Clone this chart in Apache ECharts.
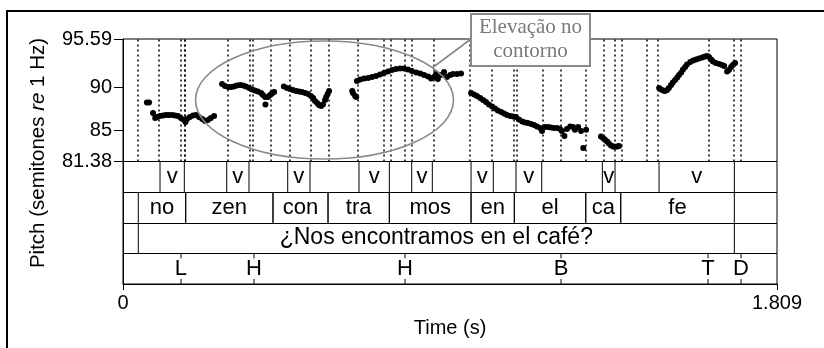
<!DOCTYPE html>
<html>
<head>
<meta charset="utf-8">
<script src="https://cdn.jsdelivr.net/npm/echarts@6/dist/echarts.min.js"></script>
<style>
  html, body { margin: 0; padding: 0; background: #fff; }
  #chart { width: 824px; height: 348px; }
</style>
</head>
<body>
<div id="chart"></div>
<script>
// pitch track, [time (s), semitones re 1 Hz], one array per stretch of voicing
var pitchNo = [[0.066,88.23],[0.072,88.23],[0.083,87.02],[0.089,86.44],[0.094,86.55],[0.102,86.67],[0.111,86.73],[0.119,86.78],[0.127,86.78],[0.136,86.78],[0.144,86.73],[0.152,86.67],[0.160,86.44],[0.169,86.20],[0.173,85.97],[0.177,86.32],[0.185,86.55],[0.194,86.73],[0.202,86.78],[0.210,86.55],[0.219,86.32],[0.227,86.09],[0.235,86.20],[0.243,86.44],[0.252,86.67]];
var pitchZen = [[0.274,90.38],[0.282,90.14],[0.291,90.03],[0.299,90.03],[0.307,90.09],[0.315,90.20],[0.324,90.26],[0.332,90.20],[0.340,90.09],[0.349,89.91],[0.357,89.74],[0.365,89.62],[0.373,89.51],[0.382,89.33],[0.387,89.10],[0.393,88.87],[0.394,88.00],[0.401,88.87],[0.407,89.10],[0.412,89.27],[0.418,89.45]];
var pitchCon = [[0.445,90.09],[0.454,89.91],[0.462,89.80],[0.470,89.68],[0.479,89.56],[0.487,89.51],[0.495,89.45],[0.504,89.33],[0.512,89.22],[0.520,88.99],[0.526,88.75],[0.531,88.41],[0.537,88.17],[0.542,87.94],[0.548,87.83],[0.553,88.00],[0.559,88.52],[0.562,88.87],[0.566,89.22],[0.570,89.56]];
var pitchTraMos = [[0.634,89.56],[0.636,89.33],[0.642,88.99],[0.645,88.87],[0.647,90.72],[0.656,90.90],[0.667,91.01],[0.678,91.07],[0.689,91.19],[0.700,91.30],[0.711,91.48],[0.722,91.65],[0.733,91.82],[0.744,92.00],[0.755,92.11],[0.766,92.17],[0.777,92.17],[0.788,92.06],[0.799,91.88],[0.811,91.71],[0.822,91.59],[0.833,91.42],[0.844,91.24],[0.852,91.01],[0.860,91.19],[0.866,91.53],[0.871,90.95],[0.880,91.42],[0.888,91.77],[0.896,91.19],[0.905,91.42],[0.913,91.53],[0.924,91.53],[0.935,91.59]];
var pitchEnEl = [[0.963,89.33],[0.971,89.16],[0.979,88.99],[0.988,88.75],[0.996,88.52],[1.004,88.29],[1.012,88.00],[1.021,87.77],[1.029,87.54],[1.037,87.31],[1.046,87.13],[1.054,86.96],[1.062,86.78],[1.071,86.67],[1.079,86.61],[1.087,86.55],[1.095,86.26],[1.104,86.03],[1.112,85.91],[1.120,85.86],[1.129,85.74],[1.137,85.62],[1.145,85.45],[1.154,85.28],[1.159,84.93],[1.167,85.39],[1.176,85.39],[1.184,85.33],[1.192,85.28],[1.201,85.28],[1.209,85.16],[1.214,84.93],[1.221,84.35],[1.228,85.16],[1.237,85.45],[1.245,85.39],[1.250,85.05],[1.259,85.39],[1.267,84.93],[1.273,82.96],[1.281,85.05]];
var pitchCa = [[1.322,84.29],[1.328,84.12],[1.333,83.89],[1.339,83.71],[1.344,83.48],[1.350,83.25],[1.356,83.13],[1.361,83.08],[1.367,83.13],[1.372,83.19]];
var pitchFe = [[1.483,89.91],[1.488,89.74],[1.494,89.62],[1.499,89.56],[1.505,89.68],[1.510,89.91],[1.516,90.26],[1.521,90.55],[1.527,90.84],[1.533,91.13],[1.538,91.42],[1.544,91.71],[1.549,92.06],[1.555,92.35],[1.560,92.64],[1.569,92.92],[1.577,93.10],[1.585,93.21],[1.593,93.33],[1.602,93.45],[1.610,93.56],[1.616,93.62],[1.621,93.50],[1.627,93.21],[1.632,92.98],[1.640,92.81],[1.649,92.69],[1.657,92.58],[1.663,92.46],[1.671,91.82],[1.676,92.00],[1.682,92.35],[1.687,92.58],[1.693,92.81]];

// TextGrid tiers, [start, end, label]
var vowelTier = [[0.1024,0.1696,'v'],[0.2869,0.3485,'v'],[0.4556,0.5173,'v'],[0.6528,0.7367,'v'],[0.7986,0.8556,'v'],[0.9627,1.0243,'v'],[1.0871,1.1582,'v'],[1.3259,1.3610,'v'],[1.4827,1.6910,'v']];
var syllableTier = [[0.0423,0.1734,'no'],[0.1734,0.4149,'zen'],[0.4149,0.5671,'con'],[0.5671,0.7367,'tra'],[0.7367,0.9627,'mos'],[0.9627,1.0824,'en'],[1.0824,1.2800,'el'],[1.2800,1.3768,'ca'],[1.3768,1.6910,'fe']];
var sentenceTier = [[0.0423,1.6910,'¿Nos encontramos en el café?']];
// point tier, [time, label]
var toneTier = [[0.1604,'L'],[0.3624,'H'],[0.7801,'H'],[1.2116,'B'],[1.6183,'T'],[1.7095,'D']];
var extraMarks = [0.7156, 1.4467];

var timeMax = 1.809;
var pitchMin = 81.38, pitchMax = 95.59;
var pitchTicks = [81.38, 85, 90, 95.59];
var timeTicks = [0, 1.809];

var FONT = '"Liberation Sans", Arial, sans-serif';

var pitch = [].concat(pitchNo, pitchZen, pitchCon, pitchTraMos, pitchEnEl, pitchCa, pitchFe);

var lineData = [], textData = [], textLabels = [], textSizes = [], tickData = [], dotted = [];
function addMark(t) { if (dotted.indexOf(t) < 0) dotted.push(t); }
[[vowelTier, 3, 22], [syllableTier, 2, 22], [sentenceTier, 1, 23]].forEach(function (tr) {
  tr[0].forEach(function (iv) {
    lineData.push([iv[0], tr[1]], [iv[1], tr[1]]);
    addMark(iv[0]); addMark(iv[1]);
    textData.push([(iv[0] + iv[1]) / 2, tr[1] + 0.5]);
    textLabels.push(iv[2]);
    textSizes.push(tr[2]);
  });
});
toneTier.forEach(function (p) {
  tickData.push([p[0], 0]);
  addMark(p[0]);
  textData.push([p[0], 0.5]);
  textLabels.push(p[1]);
  textSizes.push(22);
});
extraMarks.forEach(addMark);

var chart = echarts.init(document.getElementById('chart'));
chart.setOption({
  animation: false,
  grid: [
    { left: 123, top: 39, width: 654, height: 122.5, show: true, borderColor: '#000', borderWidth: 1 },
    { left: 123, top: 161.5, width: 654, height: 122.5, show: true, borderColor: '#000', borderWidth: 1 }
  ],
  xAxis: [
    { gridIndex: 0, type: 'value', min: 0, max: timeMax, show: false },
    {
      gridIndex: 1, type: 'value', min: 0, max: timeMax,
      axisLine: { show: true, lineStyle: { color: '#000', width: 1 } },
      axisTick: { show: true, customValues: timeTicks, length: 6, lineStyle: { color: '#000' } },
      axisLabel: { customValues: timeTicks, color: '#000', fontSize: 20, fontFamily: FONT, margin: 9 },
      splitLine: { show: false },
      name: 'Time (s)', nameLocation: 'middle', nameGap: 34,
      nameTextStyle: { color: '#000', fontSize: 20, fontFamily: FONT }
    }
  ],
  yAxis: [
    {
      gridIndex: 0, type: 'value', min: pitchMin, max: pitchMax,
      axisLine: { show: true, lineStyle: { color: '#000', width: 1 } },
      axisTick: { show: true, customValues: pitchTicks, length: 9, lineStyle: { color: '#000' } },
      axisLabel: { customValues: pitchTicks, color: '#000', fontSize: 20, fontFamily: FONT, margin: 11 },
      splitLine: { show: false }
    },
    {
      gridIndex: 1, type: 'value', min: 0, max: 4, interval: 1,
      axisLine: { show: true, lineStyle: { color: '#000' } },
      axisTick: { show: false }, axisLabel: { show: false },
      splitLine: { show: true, lineStyle: { color: '#000', width: 1 } }
    }
  ],
  graphic: [
    { type: 'rect', z: 100, shape: { x: 7, y: 11, width: 830, height: 350 }, style: { fill: 'none', stroke: '#000', lineWidth: 2 } },
    { type: 'text', z: 100, x: 38, y: 153, rotation: Math.PI / 2,
      style: {
        text: '{a|Pitch (semitones }{b|re}{a| 1 Hz)}',
        align: 'center', verticalAlign: 'middle',
        rich: {
          a: { fontSize: 20.5, fontFamily: FONT, fill: '#000', color: '#000' },
          b: { fontSize: 20.5, fontFamily: FONT, fontStyle: 'italic', fill: '#000', color: '#000' }
        }
      }
    },
    { type: 'ellipse', z: 100, shape: { cx: 324.5, cy: 100, rx: 129, ry: 59 }, style: { fill: 'none', stroke: '#8a8a8a', lineWidth: 1.6 } },
    { type: 'line', z: 100, shape: { x1: 471, y1: 39, x2: 432, y2: 68 }, style: { stroke: '#8a8a8a', lineWidth: 1.6 } },
    { type: 'rect', z: 101, shape: { x: 471, y: 14, width: 119, height: 52 }, style: { fill: '#fff', stroke: '#8a8a8a', lineWidth: 2 } },
    { type: 'text', z: 102, x: 530.5, y: 39,
      style: {
        text: 'Elevação no\ncontorno', align: 'center', verticalAlign: 'middle',
        font: '21px "Liberation Serif", "Times New Roman", serif', lineHeight: 24, fill: '#7a7a7a'
      }
    }
  ],
  series: [
    {
      type: 'line', xAxisIndex: 0, yAxisIndex: 0, data: [], silent: true,
      markLine: {
        symbol: ['none', 'none'], silent: true, animation: false,
        label: { show: false },
        lineStyle: { color: '#000', width: 1.5, type: [2, 3], opacity: 1 },
        data: dotted.map(function (t) { return { xAxis: t }; })
      }
    },
    {
      type: 'scatter', xAxisIndex: 0, yAxisIndex: 0, data: pitch,
      symbol: 'circle', symbolSize: 6, itemStyle: { color: '#000', opacity: 1 }, z: 5
    },
    {
      type: 'custom', xAxisIndex: 1, yAxisIndex: 1, data: lineData,
      renderItem: function (params, api) {
        var a = api.coord([api.value(0), api.value(1)]);
        var b = api.coord([api.value(0), api.value(1) + 1]);
        return { type: 'line', shape: { x1: a[0], y1: a[1], x2: b[0], y2: b[1] }, style: { stroke: '#000', lineWidth: 1 } };
      }
    },
    {
      type: 'custom', xAxisIndex: 1, yAxisIndex: 1, data: tickData,
      renderItem: function (params, api) {
        var a = api.coord([api.value(0), 0]);
        var b = api.coord([api.value(0), 1]);
        return {
          type: 'group',
          children: [
            { type: 'line', shape: { x1: a[0], y1: a[1], x2: a[0], y2: a[1] - 5 }, style: { stroke: '#000', lineWidth: 1 } },
            { type: 'line', shape: { x1: b[0], y1: b[1], x2: b[0], y2: b[1] + 5 }, style: { stroke: '#000', lineWidth: 1 } }
          ]
        };
      }
    },
    {
      type: 'custom', xAxisIndex: 1, yAxisIndex: 1, data: textData,
      renderItem: function (params, api) {
        var p = api.coord([api.value(0), api.value(1)]);
        return {
          type: 'text',
          style: {
            x: p[0], y: p[1], text: textLabels[params.dataIndex],
            font: textSizes[params.dataIndex] + 'px ' + FONT, fill: '#000',
            align: 'center', verticalAlign: 'middle', textAlign: 'center', textVerticalAlign: 'middle'
          }
        };
      }
    }
  ]
});
</script>
</body>
</html>
